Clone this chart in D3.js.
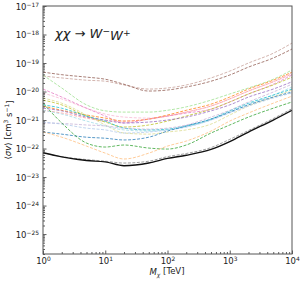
<!DOCTYPE html>
<html>
<head>
<meta charset="utf-8">
<script src="https://cdn.jsdelivr.net/npm/d3@7"></script>
<style>
  body { margin: 0; background: #fff; }
  svg text { font-family: "DejaVu Sans", sans-serif; fill: #222; }
</style>
</head>
<body>
<svg id="chart" width="304" height="282"></svg>
<script>
// DM mass grid (TeV)
const masses = [1, 2, 5, 10, 20, 50, 100, 200, 500, 1000, 2000, 5000, 10000];

// <sigma v> upper limits (cm^3 s^-1)
const brownDark   = [4.8e-20, 3.9e-20, 3.2e-20, 2.7e-20, 1.8e-20, 1.04e-20, 1.13e-20, 1.44e-20, 2.3e-20, 3.8e-20, 7.2e-20, 1.5e-19, 3.1e-19];
const brownLight  = [3.5e-20, 3.0e-20, 2.5e-20, 2.3e-20, 1.7e-20, 1.22e-20, 1.33e-20, 1.7e-20, 3.0e-20, 5.2e-20, 1.0e-19, 2.2e-19, 5.0e-19];
const greenLight  = [3.8e-20, 1.33e-20, 3.4e-21, 2.1e-21, 1.9e-21, 1.9e-21, 2.2e-21, 2.9e-21, 5.0e-21, 8.2e-21, 1.33e-20, 2.7e-20, 5.7e-20];
const pink        = [1.22e-20, 6.4e-21, 2.6e-21, 1.38e-21, 7.9e-22, 1.08e-21, 1.38e-21, 1.76e-21, 2.4e-21, 4.3e-21, 8.2e-21, 1.8e-20, 3.8e-20];
const pinkLight   = [8.9e-21, 5.5e-21, 2.6e-21, 1.62e-21, 1.27e-21, 1.17e-21, 1.38e-21, 1.9e-21, 3.1e-21, 5.5e-21, 1.04e-20, 2.2e-20, 4.5e-20];
const orange      = [3.1e-21, 2.2e-21, 1.5e-21, 1.17e-21, 9.2e-22, 1.08e-21, 1.5e-21, 2.2e-21, 3.6e-21, 6.4e-21, 1.22e-20, 2.5e-20, 4.8e-20];
const redLight    = [2.2e-21, 1.76e-21, 1.17e-21, 9.2e-22, 9.2e-22, 1.08e-21, 1.38e-21, 1.9e-21, 3.1e-21, 5.5e-21, 1.04e-20, 2.2e-20, 4.1e-20];
const olive       = [5.0e-21, 3.4e-21, 1.38e-21, 8.5e-22, 5.7e-22, 6.7e-22, 9.2e-22, 1.38e-21, 2.4e-21, 4.3e-21, 8.2e-21, 1.7e-20, 3.2e-20];
const oliveLight  = [5.9e-21, 3.9e-21, 1.5e-21, 6.7e-22, 3.5e-22, 3.2e-22, 3.8e-22, 4.5e-22, 7.2e-22, 1.5e-21, 3.1e-21, 6.4e-21, 1.13e-20];
const cyan        = [3.4e-21, 2.6e-21, 1.38e-21, 9.2e-22, 5.2e-22, 4.5e-22, 4.8e-22, 6.2e-22, 1.08e-21, 2.1e-21, 3.9e-21, 7.5e-21, 1.22e-20];
const cyanLight   = [2.2e-21, 1.62e-21, 9.2e-22, 6.2e-22, 4.5e-22, 4.1e-22, 4.5e-22, 5.7e-22, 1.0e-21, 1.9e-21, 3.6e-21, 7.5e-21, 1.44e-20];
const purple      = [2.6e-21, 2.1e-21, 1.27e-21, 1.0e-21, 7.9e-22, 8.5e-22, 1.0e-21, 1.27e-21, 2.1e-21, 3.4e-21, 6.4e-21, 1.22e-20, 2.2e-20];
const purpleLight = [7.9e-22, 7.6e-22, 6.7e-22, 6.2e-22, 5.2e-22, 4.8e-22, 5.2e-22, 6.7e-22, 1.27e-21, 2.2e-21, 4.3e-21, 9.6e-21, 1.8e-20];
const blue        = [3.8e-22, 3.2e-22, 2.5e-22, 2.3e-22, 2.0e-22, 2.5e-22, 4.1e-22, 6.2e-22, 1.08e-21, 1.9e-21, 3.4e-21, 6.4e-21, 9.6e-21];
const blueLight   = [8.5e-22, 7.2e-22, 5.2e-22, 4.5e-22, 3.5e-22, 3.8e-22, 4.5e-22, 5.7e-22, 1.0e-21, 1.76e-21, 3.1e-21, 5.9e-21, 8.9e-21];
const green       = [3.9e-21, 7.9e-22, 1.56e-22, 1.13e-22, 1.33e-22, 1.04e-22, 9.6e-23, 1.33e-22, 3.5e-22, 6.7e-22, 1.27e-21, 2.6e-21, 4.3e-21];
const orangeLight = [3.8e-22, 2.5e-22, 1.22e-22, 6.9e-23, 4.3e-23, 6.9e-23, 1.22e-22, 1.83e-22, 4.1e-22, 9.2e-22, 1.76e-21, 3.9e-21, 6.9e-21];
const gray        = [6.9e-23, 5.2e-23, 4.1e-23, 3.6e-23, 3.1e-23, 3.6e-23, 5.2e-23, 6.7e-23, 1.08e-22, 2.1e-22, 4.3e-22, 1.13e-21, 2.5e-21];
const combined    = [7.1e-23, 5.1e-23, 3.8e-23, 3.4e-23, 2.5e-23, 3.1e-23, 4.5e-23, 5.8e-23, 9.3e-23, 1.76e-22, 3.8e-22, 1.0e-21, 2.2e-21];

const xMajor = [1, 10, 100, 1000, 10000];
const yMajor = [1e-25, 1e-24, 1e-23, 1e-22, 1e-21, 1e-20, 1e-19, 1e-18, 1e-17];

const dashed = [
  ['#c49c94', brownLight], ['#8c564b', brownDark], ['#98df8a', greenLight],
  ['#f7b6d2', pinkLight], ['#e377c2', pink], ['#ff7f0e', orange], ['#ff9896', redLight],
  ['#bcbd22', olive], ['#dbdb8d', oliveLight], ['#9edae5', cyanLight], ['#17becf', cyan],
  ['#9467bd', purple], ['#c5b0d5', purpleLight], ['#aec7e8', blueLight], ['#1f77b4', blue],
  ['#2ca02c', green], ['#ffbb78', orangeLight], ['#7f7f7f', gray]
];

const svg = d3.select('#chart');
const pLeft = 43, pRight = 292, pTop = 6, pBottom = 254;

const x = d3.scaleLog().domain([1, 1e4]).range([pLeft, pRight]);
const y = d3.scaleLog().domain([2e-26, 1e-17]).range([pBottom, pTop]);

// minor ticks between decades
const xMinor = [], yMinor = [];
for (let e = 0; e < 4; e++) for (let m = 2; m < 10; m++) xMinor.push(m * Math.pow(10, e));
for (let e = -26; e < -17; e++) for (let m = 2; m < 10; m++) {
  const v = m * Math.pow(10, e);
  if (v >= 2e-26 && v <= 1e-17) yMinor.push(v);
}

svg.append('clipPath').attr('id', 'clip')
  .append('rect').attr('x', pLeft).attr('y', pTop).attr('width', pRight - pLeft).attr('height', pBottom - pTop);

const line = d3.line()
  .x((d, i) => x(masses[i]))
  .y(d => y(d))
  .curve(d3.curveMonotoneX);

const lines = svg.append('g').attr('clip-path', 'url(#clip)');
dashed.forEach(([c, vals]) => {
  lines.append('path')
    .attr('d', line(vals))
    .attr('fill', 'none')
    .attr('stroke', c)
    .attr('stroke-width', 1)
    .attr('stroke-opacity', 0.75)
    .attr('stroke-dasharray', '3,1.5');
});
lines.append('path')
  .attr('d', line(combined))
  .attr('fill', 'none')
  .attr('stroke', '#111')
  .attr('stroke-width', 1.4);

// axes (ticks pointing inward)
function sup(sel, exp) {
  sel.text(null);
  sel.append('tspan').text('10');
  sel.append('tspan').attr('dy', '-0.55em').attr('font-size', '0.7em')
    .text(exp < 0 ? '\u2212' + (-exp) : String(exp));
}

const xAx = svg.append('g').attr('transform', `translate(0,${pBottom})`)
  .call(d3.axisBottom(x).tickValues(xMajor).tickSize(-3.5).tickPadding(3).tickFormat(() => ''));
xAx.selectAll('.tick text').each(function(d) { sup(d3.select(this), Math.round(Math.log10(d))); })
  .attr('font-size', 8.5).attr('dy', '0.72em').attr('y', 4);
svg.append('g').attr('transform', `translate(0,${pBottom})`)
  .call(d3.axisBottom(x).tickValues(xMinor).tickSize(-2).tickFormat(''));

const yAx = svg.append('g').attr('transform', `translate(${pLeft},0)`)
  .call(d3.axisLeft(y).tickValues(yMajor).tickSize(-3.5).tickPadding(4).tickFormat(() => ''));
yAx.selectAll('.tick text').each(function(d) { sup(d3.select(this), Math.round(Math.log10(d))); })
  .attr('font-size', 8.5).attr('dy', '0.4em');
svg.append('g').attr('transform', `translate(${pLeft},0)`)
  .call(d3.axisLeft(y).tickValues(yMinor).tickSize(-2).tickFormat(''));

svg.selectAll('.domain').remove();
svg.selectAll('.tick line').attr('stroke', '#333').attr('stroke-width', 0.8);

// frame
svg.append('rect').attr('x', pLeft).attr('y', pTop).attr('width', pRight - pLeft).attr('height', pBottom - pTop)
  .attr('fill', 'none').attr('stroke', '#555').attr('stroke-width', 1);

// process label
const lab = svg.append('text').attr('x', 55).attr('y', 38).attr('font-size', 13);
lab.append('tspan').attr('font-style', 'italic').text('\u03c7\u03c7');
lab.append('tspan').text(' \u2192 ');
lab.append('tspan').attr('font-style', 'italic').text('W');
lab.append('tspan').attr('dy', '-0.45em').attr('font-size', '0.7em').text('\u2212');
lab.append('tspan').attr('dy', '0.45em').attr('font-style', 'italic').text('W');
lab.append('tspan').attr('dy', '-0.45em').attr('font-size', '0.7em').text('+');

// axis titles
const xl = svg.append('text').attr('x', 167).attr('y', 275).attr('text-anchor', 'middle').attr('font-size', 8.5);
xl.append('tspan').attr('font-style', 'italic').text('M');
xl.append('tspan').attr('dy', '0.3em').attr('font-size', '0.7em').attr('font-style', 'italic').text('\u03c7');
xl.append('tspan').attr('dy', '-0.3em').text(' [TeV]');

const yl = svg.append('text').attr('transform', 'translate(11,130) rotate(-90)')
  .attr('text-anchor', 'middle').attr('font-size', 8.5);
yl.append('tspan').text('\u27e8');
yl.append('tspan').attr('font-style', 'italic').text('\u03c3v');
yl.append('tspan').text('\u27e9 [cm');
yl.append('tspan').attr('dy', '-0.45em').attr('font-size', '0.7em').text('3');
yl.append('tspan').attr('dy', '0.45em').text(' s');
yl.append('tspan').attr('dy', '-0.45em').attr('font-size', '0.7em').text('\u22121');
yl.append('tspan').attr('dy', '0.45em').text(']');
</script>
</body>
</html>
